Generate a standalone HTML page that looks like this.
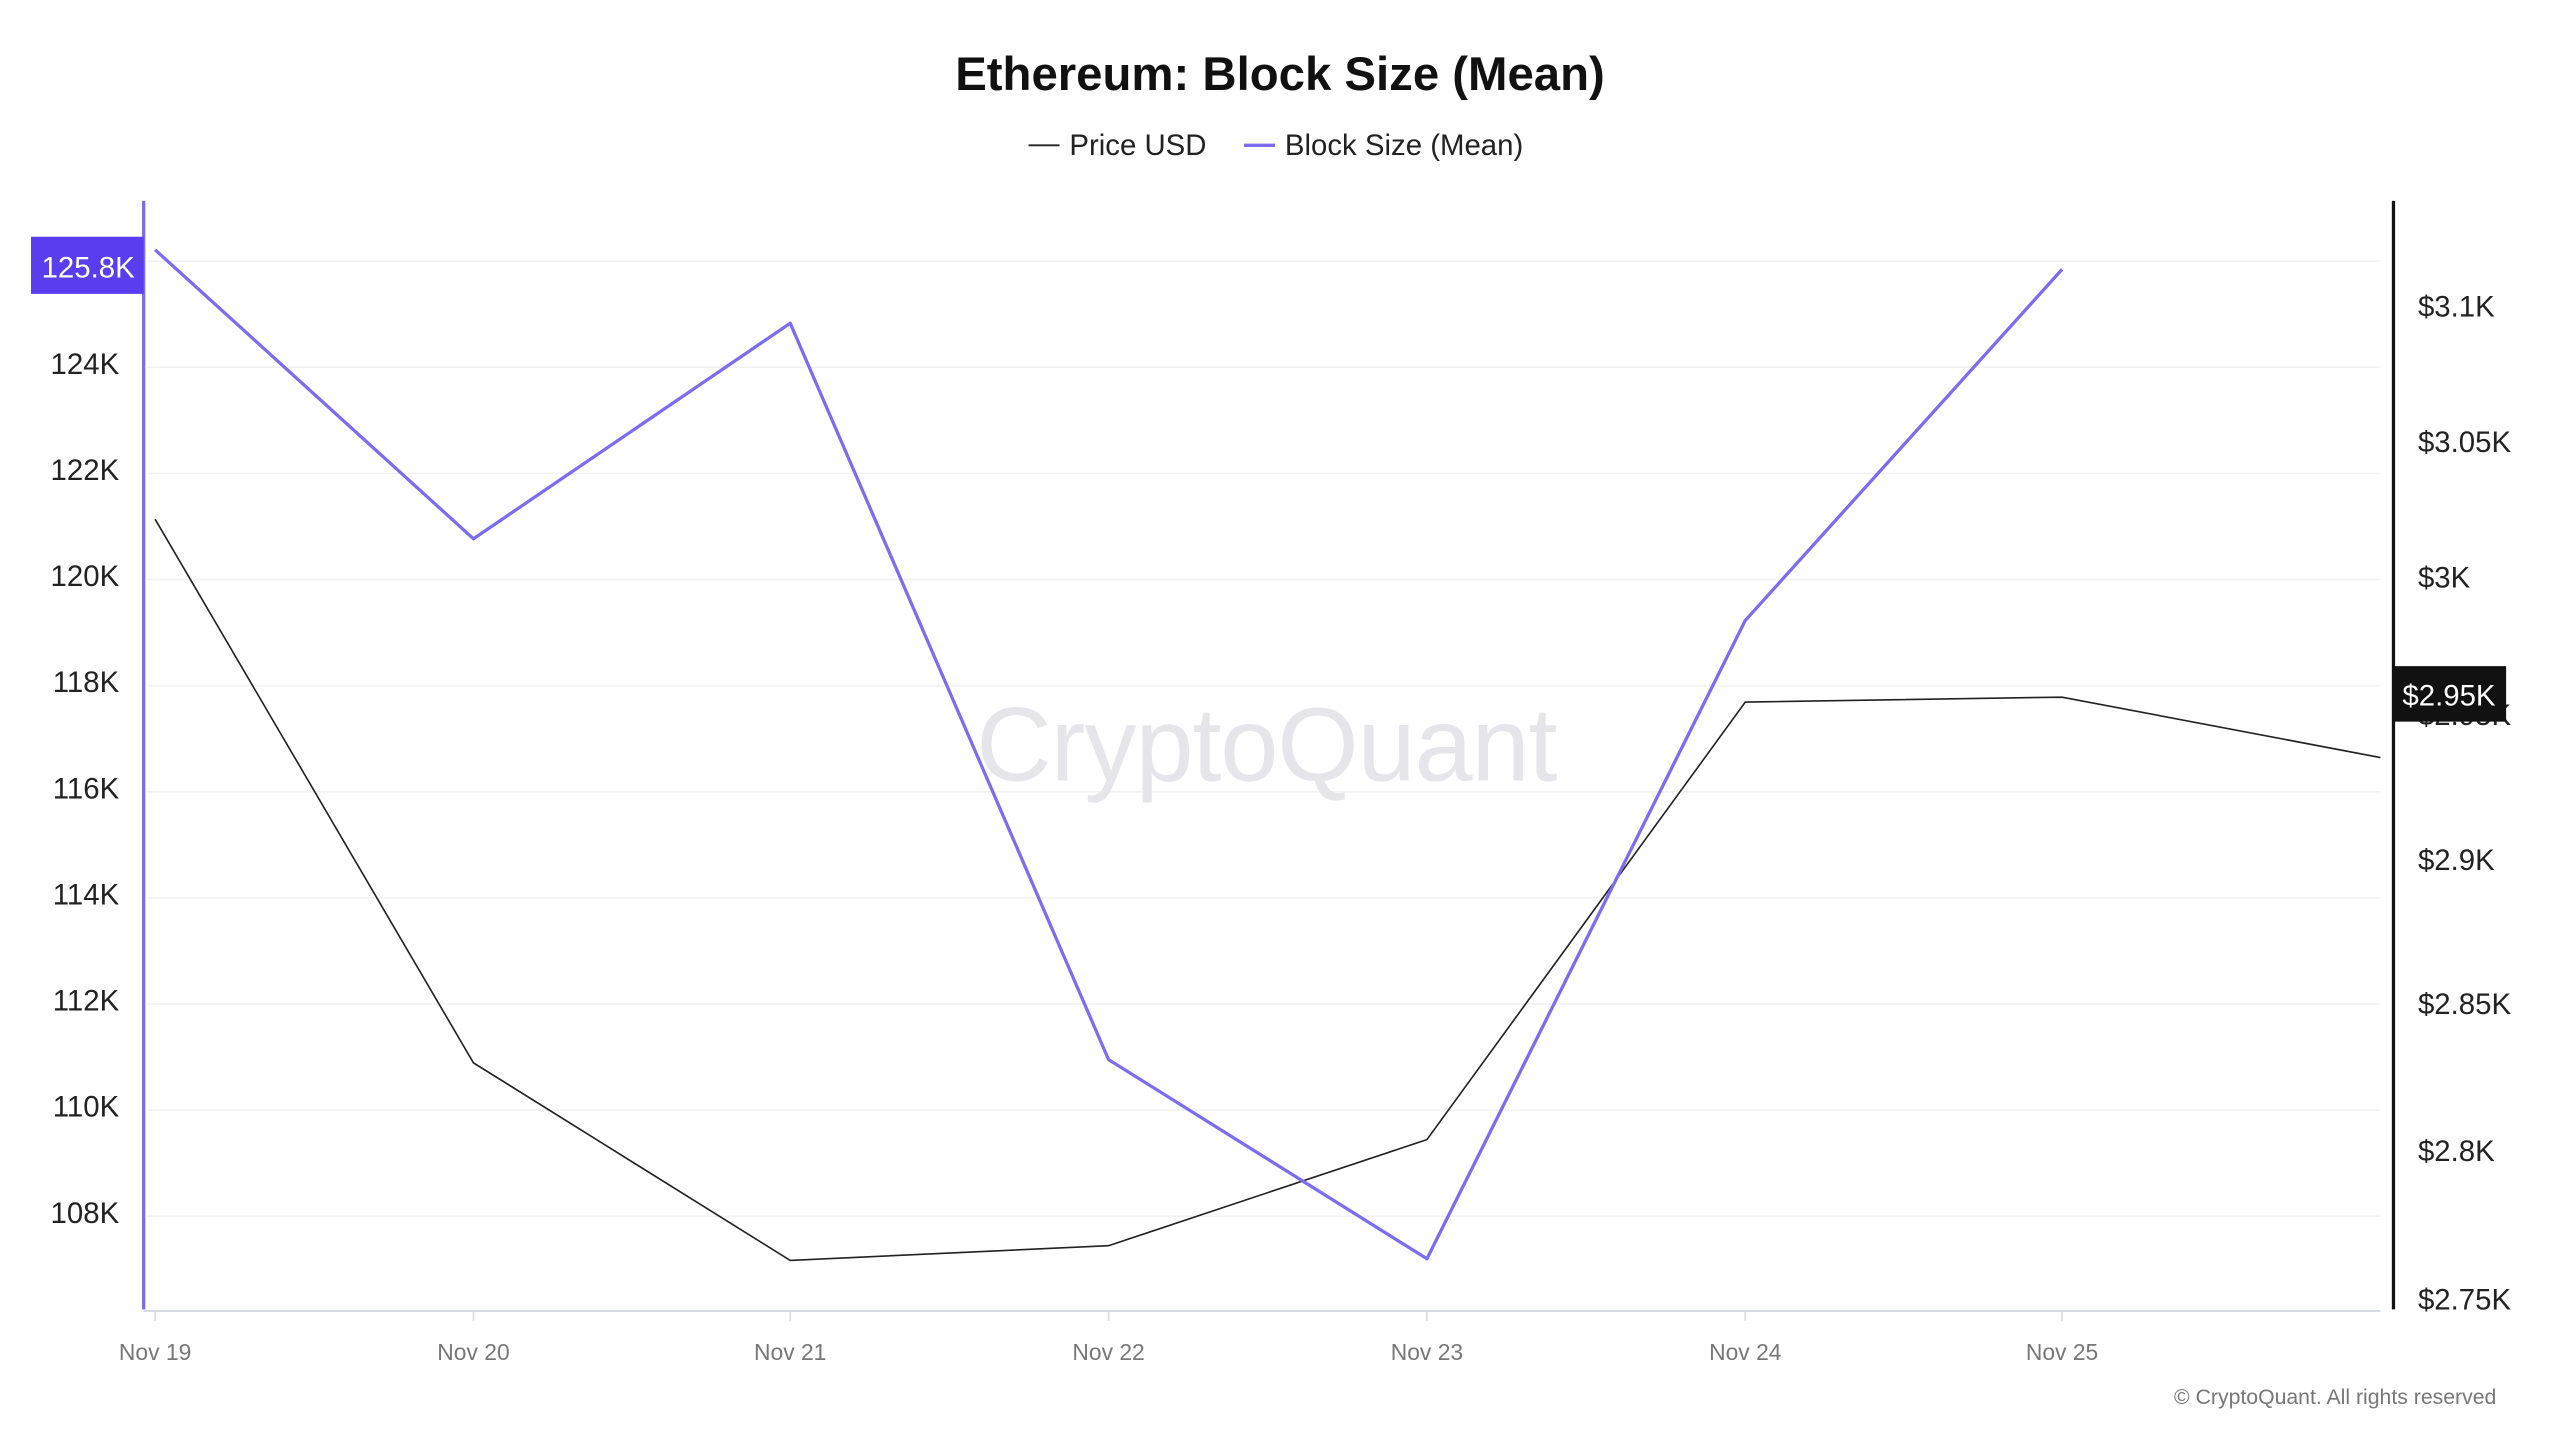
<!DOCTYPE html>
<html><head><meta charset="utf-8"><style>
html,body{margin:0;padding:0;background:#fff;}
svg{display:block;}
text{font-family:"Liberation Sans",sans-serif;}
</style></head><body>
<svg width="2560" height="1440" viewBox="0 0 1568 882" xmlns="http://www.w3.org/2000/svg">
<rect width="1568" height="882" fill="#fff"/>
<text x="784" y="55" text-anchor="middle" font-size="29" font-weight="bold" fill="#111">Ethereum: Block Size (Mean)</text>
<line x1="630" y1="89" x2="649" y2="89" stroke="#222" stroke-width="1.2"/>
<text x="655" y="95" font-size="18" fill="#222">Price USD</text>
<line x1="762" y1="89" x2="781" y2="89" stroke="#7b6cf0" stroke-width="2"/>
<text x="787" y="95" font-size="18" fill="#222">Block Size (Mean)</text>
<g stroke="#f2f2f2" stroke-width="1">
<line x1="90" y1="160" x2="1458" y2="160"/><line x1="90" y1="225" x2="1458" y2="225"/>
<line x1="90" y1="290" x2="1458" y2="290"/><line x1="90" y1="355" x2="1458" y2="355"/>
<line x1="90" y1="420" x2="1458" y2="420"/><line x1="90" y1="485" x2="1458" y2="485"/>
<line x1="90" y1="550" x2="1458" y2="550"/><line x1="90" y1="615" x2="1458" y2="615"/>
<line x1="90" y1="680" x2="1458" y2="680"/><line x1="90" y1="745" x2="1458" y2="745"/>
</g>
<text x="776" y="478" text-anchor="middle" font-size="64" fill="#e6e5ea" textLength="356">CryptoQuant</text>
<line x1="88" y1="803" x2="1458" y2="803" stroke="#d8dbe3" stroke-width="1.2"/>
<g stroke="#d8dbe3"><line x1="95" y1="803" x2="95" y2="809"/><line x1="290" y1="803" x2="290" y2="809"/><line x1="484" y1="803" x2="484" y2="809"/><line x1="679" y1="803" x2="679" y2="809"/><line x1="874" y1="803" x2="874" y2="809"/><line x1="1069" y1="803" x2="1069" y2="809"/><line x1="1263" y1="803" x2="1263" y2="809"/></g>
<g font-size="14" fill="#777" text-anchor="middle">
<text x="95" y="833">Nov 19</text><text x="290" y="833">Nov 20</text><text x="484" y="833">Nov 21</text><text x="679" y="833">Nov 22</text><text x="874" y="833">Nov 23</text><text x="1069" y="833">Nov 24</text><text x="1263" y="833">Nov 25</text>
</g>
<text x="1529" y="860" text-anchor="end" font-size="13" fill="#777">© CryptoQuant. All rights reserved</text>
<line x1="88" y1="123" x2="88" y2="802" stroke="#7b6cf0" stroke-width="2"/>
<line x1="1466" y1="123" x2="1466" y2="802" stroke="#111" stroke-width="2"/>
<g font-size="18" fill="#222" text-anchor="end">
<text x="73" y="229">124K</text><text x="73" y="294">122K</text><text x="73" y="359">120K</text><text x="73" y="424">118K</text><text x="73" y="489">116K</text><text x="73" y="554">114K</text><text x="73" y="619">112K</text><text x="73" y="684">110K</text><text x="73" y="749">108K</text>
</g>
<g font-size="18" fill="#222">
<text x="1481" y="194">$3.1K</text><text x="1481" y="277">$3.05K</text><text x="1481" y="360">$3K</text><text x="1481" y="444">$2.95K</text><text x="1481" y="533">$2.9K</text><text x="1481" y="621">$2.85K</text><text x="1481" y="711">$2.8K</text><text x="1481" y="802">$2.75K</text>
</g>
<polyline fill="none" stroke="#222" stroke-width="1" points="95,318 290,651 484,772 679,763 874,698 1069,430 1263,427 1458,464"/>
<polyline fill="none" stroke="#7b6cf0" stroke-width="2" stroke-linejoin="round" points="95,153 290,330 484,198 679,649 874,771 1069,380 1263,165"/>
<rect x="19" y="145" width="69" height="35" fill="#5b3df0"/>
<text x="54" y="170" text-anchor="middle" font-size="18" fill="#fff">125.8K</text>
<rect x="1466" y="408" width="69" height="34" fill="#111"/>
<text x="1500" y="432" text-anchor="middle" font-size="18" fill="#fff">$2.95K</text>
</svg>
</body></html>
